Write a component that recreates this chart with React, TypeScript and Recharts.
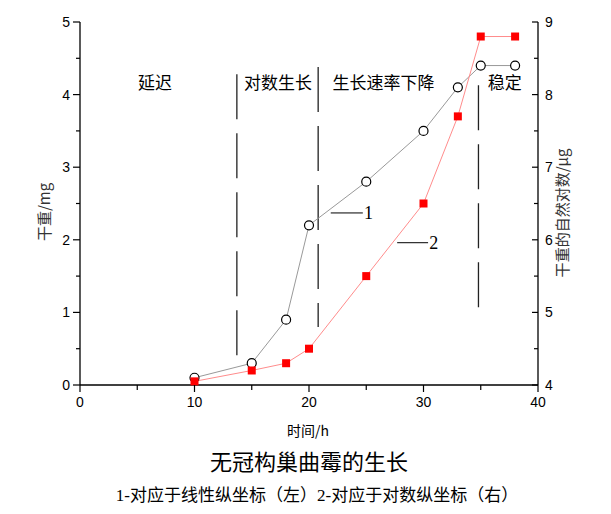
import React from 'react';
import {
  ComposedChart,
  Line,
  XAxis,
  YAxis,
  ReferenceLine,
  ReferenceDot,
} from 'recharts';

// culture time (h) and the two measured curves
const hours = [10, 15, 18, 20, 25, 30, 33, 35, 38];
const dryWeightMg = [0.1, 0.3, 0.9, 2.2, 2.8, 3.5, 4.1, 4.4, 4.4];
const lnDryWeight = [4.05, 4.2, 4.3, 4.5, 5.5, 6.5, 7.7, 8.8, 8.8];

const xTicks = [0, 5, 10, 15, 20, 25, 30, 35, 40];
const leftTicks = [0, 0.5, 1, 1.5, 2, 2.5, 3, 3.5, 4, 4.5, 5];
const rightTicks = [4, 4.5, 5, 5.5, 6, 6.5, 7, 7.5, 8, 8.5, 9];

// growth phase boundaries (x) with the span of each dashed line on the left axis
const phaseBounds = [
  { x: 13.7, top: 4.28, bottom: 0.39 },
  { x: 20.8, top: 4.38, bottom: 0.8 },
  { x: 34.8, top: 4.13, bottom: 1.07 },
];
const phaseNames = ['延迟', '对数生长', '生长速率下降', '稳定'];
const phaseLabelX = [6.55, 17.3, 26.5, 37.1];

const data = hours.map((h, i) => ({ h, dry: dryWeightMg[i], ln: lnDryWeight[i] }));

const tickFont = '"Liberation Sans", Arial, sans-serif';
const cjkFont = '"Noto Sans CJK SC", sans-serif';
const serifCjk = '"Liberation Serif", "Noto Sans CJK SC", serif';

const LeftTick = (props: any) => {
  const { x, y, payload } = props;
  const major = Number.isInteger(payload.value);
  return (
    <g>
      <line x1={x} x2={x - (major ? 7 : 4)} y1={y} y2={y} stroke="#000" strokeWidth={1.2} />
      {major && (
        <text x={x - 10} y={y} dy={5} textAnchor="end" fontSize={14} fontFamily={tickFont} fill="#000">
          {payload.value}
        </text>
      )}
    </g>
  );
};

const RightTick = (props: any) => {
  const { x, y, payload } = props;
  const major = Number.isInteger(payload.value);
  return (
    <g>
      <line x1={x} x2={x - (major ? 6 : 4)} y1={y} y2={y} stroke="#000" strokeWidth={1.2} />
      {major && (
        <text x={x + 7} y={y} dy={5} textAnchor="start" fontSize={14} fontFamily={tickFont} fill="#000">
          {payload.value}
        </text>
      )}
    </g>
  );
};

const BottomTick = (props: any) => {
  const { x, y, payload } = props;
  const major = payload.value % 10 === 0;
  return (
    <g>
      <line x1={x} x2={x} y1={y} y2={y + (major ? 7 : 5)} stroke="#000" strokeWidth={1.2} />
      {major && (
        <text x={x} y={y + 22} textAnchor="middle" fontSize={14} fontFamily={tickFont} fill="#000">
          {payload.value}
        </text>
      )}
    </g>
  );
};

const SquareDot = (props: any) => {
  const { cx, cy, index } = props;
  return <rect key={`sq-${index}`} x={cx - 4} y={cy - 4} width={8} height={8} fill="#f00" />;
};

export default function App() {
  return (
    <div style={{ position: 'absolute', left: 0, top: 0, width: 611, height: 514, background: '#fff' }}>
      <ComposedChart
        width={611}
        height={514}
        data={data}
        margin={{ top: 22, right: 23, bottom: 99, left: 30 }}
      >
        <XAxis
          dataKey="h"
          type="number"
          domain={[0, 40]}
          ticks={xTicks}
          interval={0}
          tickSize={0}
          tickMargin={0}
          tickLine={false}
          tick={<BottomTick />}
          axisLine={{ stroke: '#000', strokeWidth: 1.3 }}
          height={30}
        />
        <YAxis
          yAxisId="left"
          domain={[0, 5]}
          ticks={leftTicks}
          interval={0}
          tickSize={0}
          tickMargin={0}
          tickLine={false}
          tick={<LeftTick />}
          axisLine={{ stroke: '#000', strokeWidth: 1.3 }}
          width={50}
        />
        <YAxis
          yAxisId="right"
          orientation="right"
          domain={[4, 9]}
          ticks={rightTicks}
          interval={0}
          tickSize={0}
          tickMargin={0}
          tickLine={false}
          tick={<RightTick />}
          axisLine={{ stroke: '#000', strokeWidth: 1.3 }}
          width={50}
        />

        {phaseBounds.map((p, i) => (
          <ReferenceLine
            key={`phase-${i}`}
            yAxisId="left"
            segment={[{ x: p.x, y: p.top }, { x: p.x, y: p.bottom }]}
            stroke="#222"
            strokeWidth={1.3}
            strokeDasharray="45 14"
          />
        ))}
        {phaseNames.map((name, i) => (
          <ReferenceDot
            key={`pname-${i}`}
            yAxisId="left"
            x={phaseLabelX[i]}
            y={4.16}
            r={0}
            fill="none"
            stroke="none"
            label={{ value: name, position: 'center', fontSize: 17, fill: '#000', fontFamily: cjkFont }}
          />
        ))}

        {/* leader lines naming the curves */}
        <ReferenceLine
          yAxisId="left"
          segment={[{ x: 21.9, y: 2.37 }, { x: 24.7, y: 2.37 }]}
          stroke="#000"
          strokeWidth={1}
        />
        <ReferenceDot
          yAxisId="left"
          x={25.2}
          y={2.37}
          r={0}
          fill="none"
          stroke="none"
          label={{ value: '1', position: 'center', fontSize: 18, fill: '#000', fontFamily: serifCjk }}
        />
        <ReferenceLine
          yAxisId="left"
          segment={[{ x: 27.7, y: 1.96 }, { x: 30.4, y: 1.96 }]}
          stroke="#000"
          strokeWidth={1}
        />
        <ReferenceDot
          yAxisId="left"
          x={30.9}
          y={1.96}
          r={0}
          fill="none"
          stroke="none"
          label={{ value: '2', position: 'center', fontSize: 18, fill: '#000', fontFamily: serifCjk }}
        />

        <Line
          yAxisId="left"
          dataKey="dry"
          stroke="#999"
          strokeWidth={1}
          dot={{ r: 4.5, stroke: '#000', strokeWidth: 1.2, fill: '#fff' }}
          isAnimationActive={false}
        />
        <Line
          yAxisId="right"
          dataKey="ln"
          stroke="#ff8c8c"
          strokeWidth={1}
          dot={<SquareDot />}
          isAnimationActive={false}
        />
      </ComposedChart>

      <svg
        width={611}
        height={514}
        style={{ position: 'absolute', left: 0, top: 0, pointerEvents: 'none' }}
      >
        <text
          transform="translate(50,212) rotate(-90)"
          textAnchor="middle"
          fontSize={15}
          fontFamily={cjkFont}
          fill="#333"
        >
          干重/mg
        </text>
        <text
          transform="translate(568,213) rotate(-90)"
          textAnchor="middle"
          fontSize={15}
          fontFamily={cjkFont}
          fill="#333"
        >
          干重的自然对数/μg
        </text>
        <text x={308} y={436} textAnchor="middle" fontSize={14} fontFamily={cjkFont} fill="#000">
          时间/h
        </text>
        <text x={309} y={470} textAnchor="middle" fontSize={22} fontFamily={cjkFont} fill="#000">
          无冠构巢曲霉的生长
        </text>
        <text x={317} y={501} textAnchor="middle" fontSize={17} fontFamily={serifCjk} fill="#000">
          1-对应于线性纵坐标（左）2-对应于对数纵坐标（右）
        </text>
      </svg>
    </div>
  );
}
